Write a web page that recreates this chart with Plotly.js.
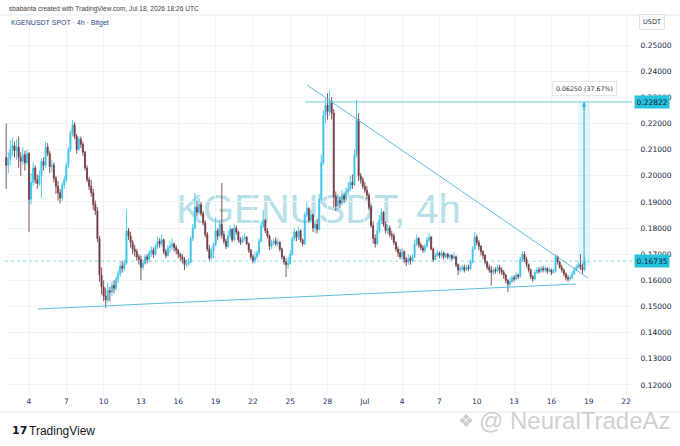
<!DOCTYPE html>
<html>
<head>
<meta charset="utf-8">
<script src="https://cdn.plot.ly/plotly-3.0.1.min.js"></script>
<style>html,body{margin:0;padding:0;background:#fff;}#chart{width:680px;height:446px;}</style>
</head>
<body>
<div id="chart"></div>
<script>
// ---- data (4h candles, KGENUSDT, Bitget) ----
const firstCandleUTC = [2026, 5, 2, 4, 0]; // 2026-06-02 04:00
const candleHours = 4;
const firstOpen = 0.2070;
const closes = [
0.2040,0.2065,0.2100,0.2115,0.2095,0.2110,0.2070,0.2055,0.2080,0.2050,
0.2085,0.1910,0.1975,0.2030,0.1985,0.1970,0.2000,0.2055,0.2040,0.2110,
0.2085,0.2035,0.2040,0.1990,0.1960,0.1935,0.1915,0.1965,0.1985,0.2040,
0.2100,0.2165,0.2195,0.2150,0.2100,0.2140,0.2120,0.2090,0.2030,0.1985,
0.1960,0.1935,0.1890,0.1865,0.1760,0.1620,0.1575,0.1540,0.1525,0.1560,
0.1555,0.1580,0.1570,0.1605,0.1625,0.1655,0.1645,0.1665,0.1790,0.1770,
0.1745,0.1720,0.1710,0.1690,0.1680,0.1650,0.1665,0.1690,0.1680,0.1705,
0.1715,0.1700,0.1730,0.1750,0.1740,0.1755,0.1710,0.1695,0.1725,0.1730,
0.1740,0.1725,0.1715,0.1700,0.1690,0.1680,0.1660,0.1665,0.1670,0.1760,
0.1800,0.1880,0.1860,0.1890,0.1855,0.1820,0.1775,0.1720,0.1685,0.1710,
0.1735,0.1790,0.1770,0.1815,0.1775,0.1750,0.1730,0.1770,0.1795,0.1755,
0.1800,0.1785,0.1755,0.1745,0.1760,0.1765,0.1740,0.1715,0.1690,0.1675,
0.1690,0.1705,0.1750,0.1810,0.1830,0.1790,0.1770,0.1730,0.1745,0.1750,
0.1740,0.1745,0.1720,0.1690,0.1670,0.1660,0.1665,0.1700,0.1760,0.1785,
0.1765,0.1790,0.1755,0.1740,0.1850,0.1875,0.1830,0.1850,0.1800,0.1815,
0.1795,0.1910,0.2050,0.2230,0.2270,0.2245,0.2285,0.2240,0.1920,0.1885,
0.1905,0.1895,0.1925,0.1910,0.1940,0.1950,0.1975,0.1965,0.2080,0.2215,
0.2000,0.1985,0.1960,0.1945,0.1925,0.1880,0.1810,0.1760,0.1740,0.1790,
0.1830,0.1860,0.1815,0.1790,0.1800,0.1775,0.1770,0.1745,0.1720,0.1705,
0.1690,0.1710,0.1680,0.1670,0.1685,0.1675,0.1690,0.1740,0.1760,0.1735,
0.1725,0.1715,0.1730,0.1755,0.1765,0.1720,0.1680,0.1695,0.1705,0.1695,
0.1705,0.1690,0.1700,0.1690,0.1695,0.1685,0.1690,0.1660,0.1640,0.1645,
0.1650,0.1640,0.1650,0.1645,0.1670,0.1720,0.1765,0.1745,0.1730,0.1710,
0.1695,0.1670,0.1650,0.1640,0.1630,0.1640,0.1635,0.1650,0.1640,0.1630,
0.1620,0.1600,0.1585,0.1595,0.1610,0.1605,0.1620,0.1615,0.1680,0.1700,
0.1680,0.1660,0.1640,0.1615,0.1605,0.1630,0.1640,0.1635,0.1645,0.1640,
0.1645,0.1635,0.1640,0.1630,0.1635,0.1690,0.1670,0.1650,0.1640,0.1625,
0.1610,0.1605,0.1610,0.1625,0.1640,0.1650,0.1660,0.1650,0.1640,0.16735
];
const highs = [
0.2200,0.2090,0.2135,0.2145,0.2130,0.2140,0.2150,0.2090,0.2110,0.2095,
0.2100,0.2090,0.2010,0.2050,0.2040,0.2005,0.2020,0.2065,0.2070,0.2130,
0.2125,0.2095,0.2060,0.2050,0.2000,0.1980,0.1950,0.1975,0.2000,0.2050,
0.2110,0.2175,0.2213,0.2205,0.2160,0.2150,0.2150,0.2130,0.2095,0.2040,
0.1995,0.1985,0.1950,0.1905,0.1880,0.1770,0.1650,0.1600,0.1570,0.1590,
0.1575,0.1595,0.1600,0.1615,0.1640,0.1670,0.1675,0.1680,0.1870,0.1800,
0.1785,0.1755,0.1735,0.1720,0.1700,0.1695,0.1680,0.1700,0.1700,0.1715,
0.1730,0.1725,0.1740,0.1765,0.1760,0.1775,0.1760,0.1720,0.1735,0.1750,
0.1760,0.1745,0.1735,0.1720,0.1705,0.1700,0.1690,0.1680,0.1685,0.1770,
0.1815,0.1934,0.1905,0.1915,0.1900,0.1865,0.1830,0.1785,0.1735,0.1725,
0.1745,0.1840,0.1800,0.1830,0.1972,0.1790,0.1760,0.1790,0.1810,0.1800,
0.1815,0.1810,0.1790,0.1765,0.1770,0.1780,0.1770,0.1745,0.1720,0.1700,
0.1710,0.1715,0.1760,0.1825,0.1869,0.1835,0.1800,0.1775,0.1755,0.1760,
0.1765,0.1760,0.1750,0.1725,0.1695,0.1685,0.1690,0.1715,0.1770,0.1800,
0.1790,0.1805,0.1795,0.1760,0.1860,0.1900,0.1880,0.1870,0.1855,0.1830,
0.1835,0.1930,0.2080,0.2250,0.2295,0.2315,0.2328,0.2300,0.2255,0.1940,
0.1930,0.1920,0.1945,0.1935,0.1955,0.1975,0.2000,0.2005,0.2100,0.2290,
0.2240,0.2010,0.1995,0.1975,0.1960,0.1935,0.1890,0.1825,0.1775,0.1820,
0.1850,0.1875,0.1865,0.1825,0.1815,0.1810,0.1790,0.1780,0.1750,0.1730,
0.1720,0.1725,0.1715,0.1690,0.1700,0.1695,0.1700,0.1755,0.1775,0.1765,
0.1745,0.1735,0.1740,0.1765,0.1780,0.1770,0.1725,0.1705,0.1715,0.1710,
0.1715,0.1710,0.1705,0.1705,0.1700,0.1700,0.1705,0.1695,0.1665,0.1655,
0.1660,0.1660,0.1660,0.1660,0.1680,0.1730,0.1785,0.1775,0.1755,0.1735,
0.1715,0.1700,0.1675,0.1660,0.1655,0.1650,0.1650,0.1660,0.1660,0.1650,
0.1640,0.1625,0.1605,0.1610,0.1620,0.1620,0.1630,0.1625,0.1690,0.1712,
0.1710,0.1690,0.1665,0.1645,0.1620,0.1640,0.1650,0.1650,0.1655,0.1655,
0.1655,0.1650,0.1650,0.1645,0.1645,0.1700,0.1695,0.1675,0.1660,0.1645,
0.1630,0.1620,0.1620,0.1635,0.1650,0.1660,0.1670,0.1700,0.1665,0.1690
];
const lows = [
0.1950,0.2010,0.2040,0.2075,0.2070,0.2060,0.2030,0.2000,0.2040,0.2020,
0.2040,0.1785,0.1890,0.1960,0.1970,0.1950,0.1960,0.1915,0.2020,0.2030,
0.2075,0.2010,0.2015,0.1975,0.1930,0.1905,0.1895,0.1905,0.1950,0.1975,
0.2030,0.2090,0.2150,0.2140,0.2085,0.2095,0.2105,0.2075,0.2020,0.1975,
0.1945,0.1920,0.1870,0.1850,0.1745,0.1595,0.1545,0.1520,0.1495,0.1515,
0.1520,0.1540,0.1550,0.1560,0.1590,0.1615,0.1630,0.1635,0.1660,0.1755,
0.1725,0.1700,0.1690,0.1675,0.1660,0.1600,0.1640,0.1660,0.1665,0.1670,
0.1690,0.1685,0.1695,0.1720,0.1725,0.1730,0.1700,0.1685,0.1690,0.1705,
0.1715,0.1710,0.1700,0.1685,0.1675,0.1665,0.1640,0.1650,0.1655,0.1665,
0.1750,0.1795,0.1845,0.1850,0.1845,0.1810,0.1765,0.1710,0.1675,0.1680,
0.1685,0.1730,0.1755,0.1765,0.1760,0.1740,0.1720,0.1725,0.1760,0.1745,
0.1750,0.1775,0.1745,0.1735,0.1740,0.1750,0.1735,0.1705,0.1680,0.1665,
0.1665,0.1680,0.1695,0.1745,0.1800,0.1780,0.1760,0.1715,0.1720,0.1735,
0.1730,0.1730,0.1710,0.1680,0.1660,0.1613,0.1645,0.1660,0.1695,0.1750,
0.1750,0.1755,0.1745,0.1730,0.1735,0.1840,0.1820,0.1820,0.1785,0.1780,
0.1780,0.1790,0.1895,0.2040,0.2200,0.2215,0.2230,0.2215,0.1880,0.1865,
0.1870,0.1875,0.1885,0.1895,0.1900,0.1925,0.1940,0.1950,0.1960,0.2070,
0.1980,0.1970,0.1950,0.1935,0.1910,0.1870,0.1800,0.1740,0.1725,0.1735,
0.1780,0.1815,0.1805,0.1780,0.1775,0.1765,0.1755,0.1735,0.1710,0.1690,
0.1680,0.1680,0.1665,0.1655,0.1660,0.1660,0.1670,0.1685,0.1730,0.1725,
0.1715,0.1705,0.1705,0.1725,0.1745,0.1715,0.1670,0.1675,0.1690,0.1685,
0.1685,0.1680,0.1685,0.1680,0.1680,0.1675,0.1680,0.1650,0.1620,0.1630,
0.1635,0.1630,0.1635,0.1635,0.1640,0.1665,0.1715,0.1735,0.1715,0.1695,
0.1680,0.1660,0.1640,0.1630,0.1580,0.1620,0.1625,0.1630,0.1625,0.1620,
0.1605,0.1590,0.1556,0.1575,0.1590,0.1595,0.1600,0.1605,0.1610,0.1670,
0.1670,0.1650,0.1630,0.1605,0.1595,0.1600,0.1625,0.1625,0.1630,0.1630,
0.1630,0.1625,0.1630,0.1620,0.1625,0.1630,0.1660,0.1645,0.1630,0.1615,
0.1600,0.1595,0.1598,0.1605,0.1620,0.1635,0.1645,0.1640,0.1625,0.1635
];
const tickDates = ['2026-06-04','2026-06-07','2026-06-10','2026-06-13','2026-06-16','2026-06-19','2026-06-22','2026-06-25','2026-06-28','2026-07-01','2026-07-04','2026-07-07','2026-07-10','2026-07-13','2026-07-16','2026-07-19','2026-07-22'];
const tickLabels = ['4','7','10','13','16','19','22','25','28','Jul','4','7','10','13','16','19','22'];
const priceTicks = [0.12,0.13,0.14,0.15,0.16,0.17,0.18,0.19,0.20,0.21,0.22,0.23,0.24,0.25];
const viewRange = ['2026-06-02 01:41','2026-07-22 11:30'];
const priceRange = [0.11616,0.26147];
// drawings
const supportTimes = ['2026-06-04 17:20','2026-07-17 23:30'];
const supportPrices = [0.14904,0.1586];
const resistTimes = ['2026-06-26 08:30','2026-07-18 22:35'];
const resistPrices = [0.2347,0.1609];
const rayStart = '2026-06-26 04:30';
const measureTop = 0.22822;
const measureBase = 0.16572;
const measureTime = '2026-07-18 15:00';
const measureBand = ['2026-07-18 03:20','2026-07-19 02:30'];
const measureText = '0.06250 (37.67%)';
const lastPrice = 0.16735;

// ---- build ----
function fmt(ms){const d=new Date(ms);const p=n=>String(n).padStart(2,'0');
  return d.getUTCFullYear()+'-'+p(d.getUTCMonth()+1)+'-'+p(d.getUTCDate())+' '+p(d.getUTCHours())+':'+p(d.getUTCMinutes());}
const t0 = Date.UTC.apply(null, firstCandleUTC);
const times = closes.map((_,i)=>fmt(t0 + i*candleHours*3600000));
const opens = closes.map((_,i)=> i===0 ? firstOpen : closes[i-1]);

const lineBlue = '#5cbfdc';
const candle = {
  type:'candlestick', x:times, open:opens, high:highs, low:lows, close:closes,
  increasing:{line:{color:'#3ec4e8',width:0.9}, fillcolor:'#2bbde3'},
  decreasing:{line:{color:'#7a4049',width:0.9}, fillcolor:'#45252b'},
  whiskerwidth:0, hoverinfo:'skip', showlegend:false
};
const support = {type:'scatter', mode:'lines', x:supportTimes, y:supportPrices, line:{color:lineBlue,width:1}, hoverinfo:'skip'};
const resist = {type:'scatter', mode:'lines', x:resistTimes, y:resistPrices, line:{color:lineBlue,width:1}, hoverinfo:'skip'};
const measure = {type:'scatter', mode:'lines', x:[measureTime,measureTime], y:[measureBase,measureTop], line:{color:'#2bb5d8',width:1}, hoverinfo:'skip'};

const fontTick = {family:'DejaVu Sans', size:7.5, color:'#131c40'};
const layout = {
  width:680, height:446, margin:{l:5,r:48,t:15,b:51},
  paper_bgcolor:'#ffffff', plot_bgcolor:'#ffffff', showlegend:false,
  xaxis:{type:'date', range:viewRange, tickvals:tickDates, ticktext:tickLabels,
    showgrid:true, gridcolor:'#f0f3fa', gridwidth:1, ticks:'', tickfont:{family:'DejaVu Sans', size:7.5, color:'#1d3170'},
    zeroline:false, showline:false, rangeslider:{visible:false}, fixedrange:true},
  yaxis:{side:'right', range:priceRange, tickvals:priceTicks, tickformat:'.5f',
    showgrid:true, gridcolor:'#f0f3fa', gridwidth:1, ticks:'outside', ticklen:6, tickcolor:'rgba(0,0,0,0)',
    tickfont:fontTick, zeroline:false, showline:false, fixedrange:true},
  shapes:[
    {type:'rect', xref:'paper', yref:'paper', x0:0.2, x1:0.8, y0:0.4, y1:0.6, layer:'below',
      line:{width:0}, fillcolor:'rgba(0,0,0,0)',
      label:{text:'KGENUSDT, 4h', font:{family:'Liberation Sans', size:40, color:'#b8e0e8'}, textposition:'middle center'}},
    {type:'line', xref:'x', yref:'y', x0:viewRange[0], x1:viewRange[1], y0:lastPrice, y1:lastPrice,
      line:{color:'rgba(38,190,218,0.55)', width:1, dash:'dot'}},
    {type:'rect', xref:'x', yref:'y', x0:measureBand[0], x1:measureBand[1], y0:measureBase, y1:measureTop,
      line:{width:0}, fillcolor:'rgba(64,196,230,0.13)'},
    {type:'line', xref:'x', yref:'y', x0:rayStart, x1:viewRange[1], y0:measureTop, y1:measureTop,
      line:{color:'#6ccbe2', width:1}},
    {type:'line', xref:'paper', yref:'paper', x0:-0.008, x1:1.077, y0:1, y1:1, line:{color:'#e6e9f0', width:1}},
    {type:'line', xref:'paper', yref:'paper', x0:-0.008, x1:1.077, y0:-0.0447, y1:-0.0447, line:{color:'#e6e9f0', width:1}}
  ],
  annotations:[
    {xref:'paper', yref:'paper', x:0.0032, y:1.0158, xanchor:'left', yanchor:'middle', showarrow:false,
      text:'sbabanta created with TradingView.com, Jul 18, 2026 18:26 UTC', font:{family:'Liberation Sans', size:6.6, color:'#444'}},
    {xref:'paper', yref:'paper', x:0.0064, y:0.979, xanchor:'left', yanchor:'middle', showarrow:false,
      text:'KGENUSDT SPOT · 4h · Bitget', font:{family:'Liberation Sans', size:7, color:'#2c4a8c'}},
    {xref:'paper', yref:'paper', x:1.032, y:0.9816, xanchor:'center', yanchor:'middle', showarrow:false,
      text:'USDT', font:{family:'DejaVu Sans', size:6.5, color:'#2a2e39'}, bgcolor:'#ffffff', bordercolor:'#e0e3eb', borderwidth:1, borderpad:3},
    {xref:'paper', yref:'y', x:1.003, y:measureTop, xanchor:'left', yanchor:'middle', showarrow:false,
      text:'0.22822', font:fontTick, bgcolor:'#26c3dc', borderpad:1.5},
    {xref:'paper', yref:'y', x:1.003, y:lastPrice, xanchor:'left', yanchor:'middle', showarrow:false,
      text:'0.16735', font:fontTick, bgcolor:'#26c3dc', borderpad:1.5},
    {xref:'x', yref:'y', x:measureTime, y:measureTop, ax:0, ay:10, showarrow:true, arrowhead:2, arrowsize:0.9, arrowwidth:1,
      arrowcolor:'#2bb5d8', text:''},
    {xref:'x', yref:'y', x:measureTime, y:0.2332, xanchor:'center', yanchor:'middle', showarrow:false,
      text:measureText, font:{family:'DejaVu Sans', size:6.3, color:'#2a2e39'}, bgcolor:'#ffffff', bordercolor:'#e3e6ec', borderwidth:1, borderpad:3},
    {xref:'paper', yref:'paper', x:0.008, y:-0.0947, xanchor:'left', yanchor:'middle', showarrow:false,
      text:'<b>17</b>', font:{family:'DejaVu Sans', size:11, color:'#131722'}},
    {xref:'paper', yref:'paper', x:0.035, y:-0.0947, xanchor:'left', yanchor:'middle', showarrow:false,
      text:'TradingView', font:{family:'Liberation Sans', size:12, color:'#131722'}},
    {xref:'paper', yref:'paper', x:0.72, y:-0.066, xanchor:'left', yanchor:'middle', showarrow:false,
      text:'❖', font:{family:'DejaVu Sans', size:18, color:'rgba(190,190,190,0.8)'}},
    {xref:'paper', yref:'paper', x:0.7528, y:-0.066, xanchor:'left', yanchor:'middle', showarrow:false,
      text:'@ NeuralTradeAz', font:{family:'Liberation Sans', size:24, color:'rgba(200,200,200,0.85)'}}
  ]
};
Plotly.newPlot('chart', [candle, support, resist, measure], layout, {staticPlot:true, displayModeBar:false});
</script>
</body>
</html>
